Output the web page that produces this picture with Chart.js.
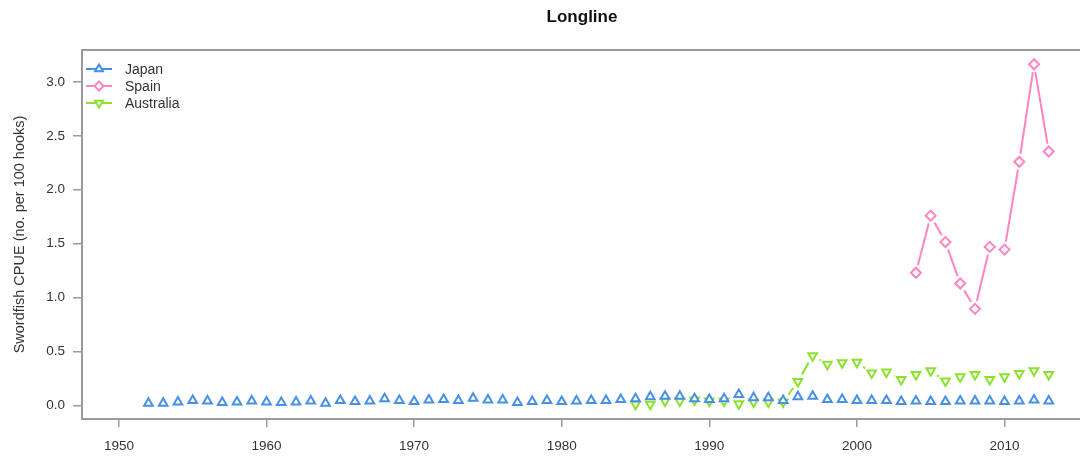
<!DOCTYPE html>
<html>
<head>
<meta charset="utf-8">
<script src="https://cdn.jsdelivr.net/npm/chart.js@4"></script>
<style>
  html, body { margin: 0; padding: 0; background: #ffffff; overflow: hidden; }
  #wrap { width: 1080px; height: 459px; position: relative; overflow: hidden; }
</style>
</head>
<body>
<div id="wrap"><canvas id="c" width="1090" height="459"></canvas></div>
<script>
// ---- data ----
const japanYears = [1952,1953,1954,1955,1956,1957,1958,1959,1960,1961,1962,1963,1964,1965,1966,1967,1968,1969,1970,1971,1972,1973,1974,1975,1976,1977,1978,1979,1980,1981,1982,1983,1984,1985,1986,1987,1988,1989,1990,1991,1992,1993,1994,1995,1996,1997,1998,1999,2000,2001,2002,2003,2004,2005,2006,2007,2008,2009,2010,2011,2012,2013];
const japanCPUE = [0.02,0.02,0.03,0.045,0.04,0.025,0.03,0.04,0.03,0.025,0.03,0.04,0.02,0.045,0.035,0.04,0.06,0.045,0.035,0.05,0.055,0.045,0.065,0.05,0.05,0.025,0.035,0.045,0.035,0.04,0.045,0.045,0.055,0.06,0.08,0.085,0.085,0.06,0.055,0.06,0.1,0.07,0.07,0.045,0.08,0.085,0.055,0.055,0.045,0.045,0.045,0.035,0.04,0.035,0.035,0.04,0.04,0.04,0.035,0.04,0.05,0.04];
const spainYears = [2004,2005,2006,2007,2008,2009,2010,2011,2012,2013];
const spainCPUE = [1.23,1.76,1.515,1.13,0.895,1.47,1.445,2.26,3.165,2.355];
const australiaYears = [1985,1986,1987,1988,1989,1990,1991,1992,1993,1994,1995,1996,1997,1998,1999,2000,2001,2002,2003,2004,2005,2006,2007,2008,2009,2010,2011,2012,2013];
const australiaCPUE = [0.01,0.01,0.04,0.04,0.05,0.04,0.04,0.015,0.03,0.03,0.03,0.22,0.46,0.38,0.395,0.40,0.30,0.31,0.24,0.285,0.32,0.225,0.265,0.285,0.24,0.265,0.295,0.32,0.285];
const xTickLabels = [1950,1960,1970,1980,1990,2000,2010];
const yTickLabels = [0.0,0.5,1.0,1.5,2.0,2.5,3.0];
const seriesNames = ['Japan','Spain','Australia'];
const chartTitle = 'Longline';
const yAxisTitle = 'Swordfish CPUE (no. per 100 hooks)';

// ---- styles ----
const colors = ['#4690e6', '#ff85c2', '#8ae22e'];
const styles = ['triangle', 'rectRot', 'triangle'];
const rotations = [0, 0, 180];
const FONT = "'Liberation Sans', Arial, sans-serif";
const TEXT = '#333333';
const AXIS = '#9a9a9a';

function pts(xs, ys) { return xs.map((x, i) => ({x: x, y: ys[i]})); }
const series = [pts(japanYears, japanCPUE), pts(spainYears, spainCPUE), pts(australiaYears, australiaCPUE)];

const datasets = [];
series.forEach((d, i) => datasets.push({
  label: seriesNames[i] + ' line', data: d, showLine: true, borderColor: colors[i], borderWidth: 2,
  pointRadius: 0, pointHoverRadius: 0, order: 3, fill: false, tension: 0
}));
series.forEach((d, i) => datasets.push({
  label: seriesNames[i] + ' gap', data: d, showLine: false, pointStyle: 'circle', pointRadius: 8,
  pointBackgroundColor: '#ffffff', pointBorderWidth: 0, pointBorderColor: 'rgba(0,0,0,0)', pointHoverRadius: 8, order: 2
}));
series.forEach((d, i) => datasets.push({
  label: seriesNames[i], data: d, showLine: false, pointStyle: styles[i], rotation: rotations[i],
  pointRadius: 5, pointHoverRadius: 5, pointBorderWidth: 2, pointBorderColor: colors[i],
  pointBackgroundColor: '#ffffff', order: 1
}));

function drawMarker(g, i, cx, cy, r) {
  g.beginPath();
  if (i === 1) {
    g.moveTo(cx, cy - r); g.lineTo(cx + r, cy); g.lineTo(cx, cy + r); g.lineTo(cx - r, cy); g.closePath();
  } else if (i === 0) {
    g.moveTo(cx, cy - r); g.lineTo(cx + r * 0.866, cy + r * 0.5); g.lineTo(cx - r * 0.866, cy + r * 0.5); g.closePath();
  } else {
    g.moveTo(cx, cy + r); g.lineTo(cx + r * 0.866, cy - r * 0.5); g.lineTo(cx - r * 0.866, cy - r * 0.5); g.closePath();
  }
  g.fill(); g.stroke();
}

const insideLegend = {
  id: 'insideLegend',
  afterDatasetsDraw(chart) {
    const g = chart.ctx, a = chart.chartArea;
    g.save();
    g.font = "14px " + FONT;
    g.textBaseline = 'middle';
    g.textAlign = 'left';
    seriesNames.forEach((n, i) => {
      const y = a.top + 19 + i * 17;
      const x0 = a.left + 4;
      g.strokeStyle = colors[i]; g.lineWidth = 2;
      g.beginPath(); g.moveTo(x0, y); g.lineTo(x0 + 26, y); g.stroke();
      g.fillStyle = '#ffffff';
      drawMarker(g, i, x0 + 13, y, 4.5);
      g.fillStyle = TEXT;
      g.fillText(n, x0 + 39, y + 1);
    });
    g.restore();
  }
};

new Chart(document.getElementById('c'), {
  type: 'scatter',
  data: { datasets: datasets },
  plugins: [insideLegend],
  options: {
    responsive: false,
    animation: false,
    events: [],
    layout: { padding: 0 },
    plugins: {
      tooltip: { enabled: false },
      legend: { display: false },
      title: {
        display: true, text: chartTitle, fullSize: false, color: '#111111',
        font: { family: FONT, size: 17, weight: 'bold', lineHeight: 1.2 },
        padding: { top: 7, bottom: 22.6 }
      }
    },
    scales: {
      x: {
        type: 'linear', position: 'bottom', min: 1947.5, max: 2015.25,
        afterBuildTicks: s => { s.ticks = xTickLabels.map(v => ({ value: v })); },
        afterFit: s => { s.height = 40; },
        ticks: { color: TEXT, font: { family: FONT, size: 13.5 }, padding: 11, maxRotation: 0, autoSkip: false,
                 callback: v => String(v) },
        grid: { display: true, drawOnChartArea: false, drawTicks: true, tickLength: 8, color: AXIS, lineWidth: 1.5 },
        border: { display: true, color: AXIS, width: 2 }
      },
      xTop: {
        type: 'linear', position: 'top', min: 1947.5, max: 2015.25,
        afterFit: s => { s.height = 0; },
        ticks: { display: false },
        grid: { display: false },
        border: { display: true, color: AXIS, width: 2 }
      },
      y: {
        type: 'linear', position: 'left', min: -0.127, max: 3.297,
        afterBuildTicks: s => { s.ticks = yTickLabels.map(v => ({ value: v })); },
        afterFit: s => { s.width = 82; },
        ticks: { color: TEXT, font: { family: FONT, size: 13.5 }, padding: 8, autoSkip: false,
                 callback: v => Number(v).toFixed(1) },
        grid: { display: true, drawOnChartArea: false, drawTicks: true, tickLength: 9, color: AXIS, lineWidth: 1.5 },
        border: { display: true, color: AXIS, width: 2 },
        title: { display: true, text: yAxisTitle, color: TEXT, font: { family: FONT, size: 14.5, lineHeight: 1.2 },
                 padding: { top: 11, bottom: 0 } }
      }
    }
  }
});
</script>
</body>
</html>
